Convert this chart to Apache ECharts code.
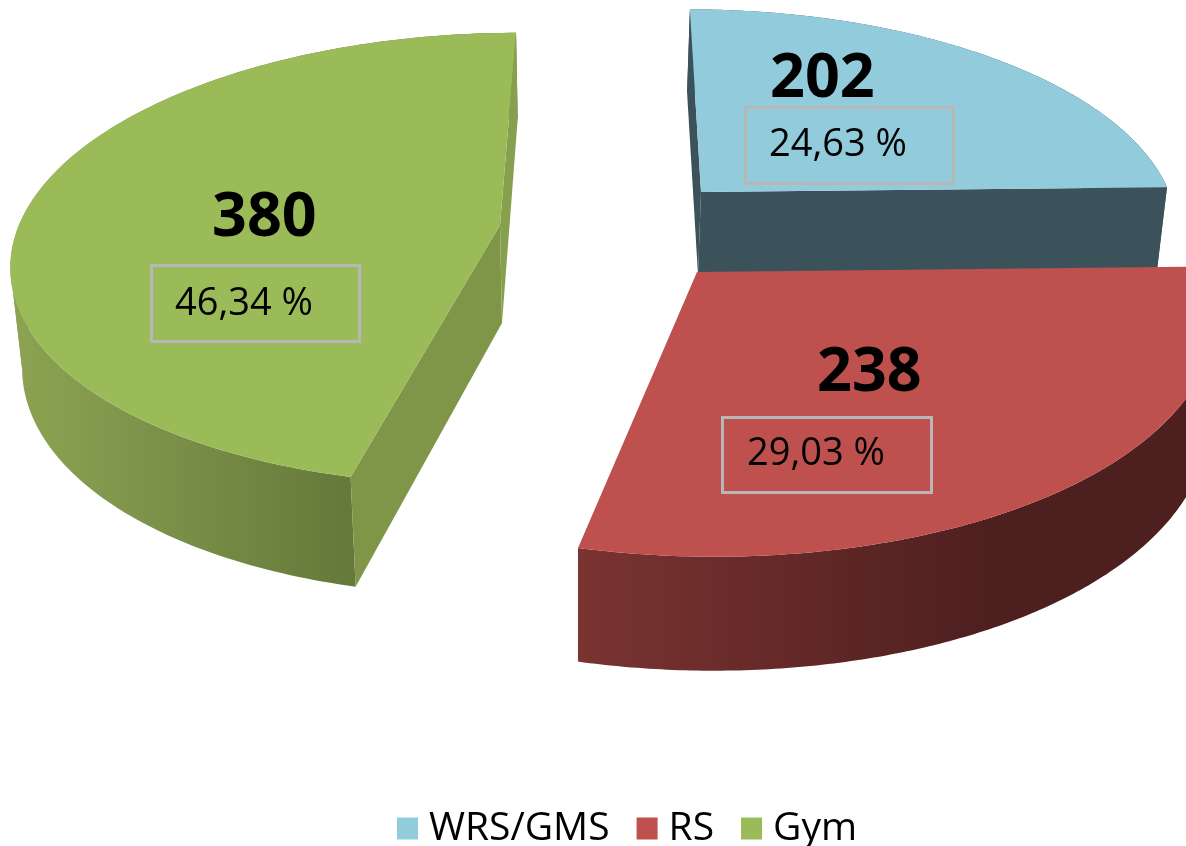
<!DOCTYPE html>
<html><head><meta charset="utf-8">
<style>html,body{margin:0;padding:0;background:#fff}#c{width:1186px;height:846px}</style>
<script src="https://cdn.jsdelivr.net/npm/echarts@6/dist/echarts.min.js"></script>
</head><body><div id="c"></div>
<script>
const categories = ['WRS/GMS', 'RS', 'Gym'];
const counts = [202, 238, 380];
const percentLabels = ['24,63 %', '29,03 %', '46,34 %'];

const FONT = '"Open Sans", sans-serif';
const total = counts.reduce((a, b) => a + b, 0);
// Exploded-slice perspective and text placement, per category
const layout = [
  { cx: 701, cy: 192, rx: 468, ry: 210, vx: 616, p: .15, sx: 501, s: .985, d0: 83, d1: 0, z: 2,
    top: '#92cbdc', wall: '#3c525a', cut: '#3c525a', cutFront: true, cutBack: true,
    num: [770, 110], box: [745.5, 107.5, 208, 76], pct: [769, 164] },
  { cx: 697, cy: 272, rx: 510, ry: 242, vx: 597, p: .15, sx: 578, s: .99, d0: 102, d1: 12, z: 3,
    top: '#be504e', wall: ['#7a3331', '#4d1f1f', 578, 1000], cut: '#4d1f1f',
    num: [817, 404], box: [722.5, 417.5, 209, 75], pct: [747, 473] },
  { cx: 500, cy: 225, rx: 481, ry: 221, vx: 623, p: .15, sx: 600, s: .98, d0: 98, d1: 12, z: 1,
    top: '#9bbb59', wall: ['#8ca252', '#64793a', 22, 356], cut: '#7f9648', cutFront: true, cutBack: true, cutBackColor: '#87a04e',
    num: [212, 249], box: [151.5, 265.5, 208, 76], pct: [175, 323] }
];

function project(l, theta) {
  const u = Math.sin(theta), v = -Math.cos(theta), w = 1 - l.p * v;
  return [l.cx + (l.rx * u + (l.cx - l.vx)) / w - (l.cx - l.vx), l.cy + l.ry * v / w, v];
}
function lower(l, pt, v) {
  return [l.sx + (pt[0] - l.sx) * l.s, pt[1] + l.d0 + l.d1 * v];
}
function arcPoints(l, a0, a1, n) {
  const r = [];
  for (let i = 0; i <= n; i++) r.push(project(l, a0 + (a1 - a0) * i / n));
  return r;
}
const poly = (points, fill, z2) => ({ type: 'polygon', z2: z2, shape: { points: points }, style: { fill: fill, stroke: null } });

function renderSlice(idx) {
  return function (params, api) {
    const value = api.value(0);
    const before = counts.slice(0, idx).reduce((a, b) => a + b, 0);
    const a0 = before / total * 2 * Math.PI, a1 = a0 + value / total * 2 * Math.PI;
    const l = layout[idx];
    const arc = arcPoints(l, a0, a1, 180);
    const apex = [l.cx, l.cy];
    const apexLow = lower(l, apex, 0);
    const upperPts = arc.map(p => [p[0], p[1]]);
    const wallFill = Array.isArray(l.wall)
      ? new echarts.graphic.LinearGradient(l.wall[2], 0, l.wall[3], 0, [{ offset: 0, color: l.wall[0] }, { offset: 1, color: l.wall[1] }], true)
      : l.wall;
    const children = [];
    // split the outer wall at its horizontal extremes so each strip has one winding
    let iMin = 0, iMax = 0;
    arc.forEach((p, i) => { if (p[0] < arc[iMin][0]) iMin = i; if (p[0] > arc[iMax][0]) iMax = i; });
    const cuts = [0, Math.min(iMin, iMax), Math.max(iMin, iMax), arc.length - 1];
    for (let c = 0; c < 3; c++) {
      if (cuts[c + 1] <= cuts[c]) continue;
      const part = arc.slice(cuts[c], cuts[c + 1] + 1);
      const up = part.map(p => [p[0], p[1]]);
      const lo = part.map(p => lower(l, p, p[2]));
      children.push(poly(up.concat(lo.reverse()), wallFill, 1));
    }
    const first = arc[0], last = arc[arc.length - 1];
    if (l.cutFront || l.cutBack) {
      const startFace = [apex, [first[0], first[1]], lower(l, first, first[2]), apexLow];
      const endFace = [apex, [last[0], last[1]], lower(l, last, last[2]), apexLow];
      children.push(poly(idx === 0 ? endFace : startFace, l.cut, 2));
      children.push(poly(idx === 0 ? startFace : endFace, l.cutBackColor || l.cut, 2));
    }
    children.push(poly([apex].concat(upperPts), l.top, 3));
    children.push({ type: 'rect', z2: 4, shape: { x: l.box[0], y: l.box[1], width: l.box[2], height: l.box[3] },
      style: { fill: 'none', stroke: '#b7b7b7', lineWidth: 3 } });
    children.push({ type: 'text', z2: 5, style: { x: l.num[0], y: l.num[1], text: String(value), fill: '#000',
      font: 'bold 61px ' + FONT, textAlign: 'left', verticalAlign: 'bottom' } });
    children.push({ type: 'text', z2: 5, style: { x: l.pct[0], y: l.pct[1], text: percentLabels[idx], fill: '#000',
      font: '38px ' + FONT, textAlign: 'left', verticalAlign: 'bottom' } });
    return { type: 'group', children: children };
  };
}

const chart = echarts.init(document.getElementById('c'), null, { renderer: 'canvas' });
chart.setOption({
  backgroundColor: '#fff',
  animation: false,
  tooltip: { show: false },
  legend: {
    left: 392, top: 804, icon: 'rect', itemWidth: 21, itemHeight: 22, itemGap: 27,
    data: categories, selectedMode: false,
    textStyle: { color: '#000', fontFamily: FONT, fontSize: 39, padding: [0, 0, 0, 6] }
  },
  series: categories.map((name, i) => ({
    type: 'custom', name: name, coordinateSystem: 'none', z: layout[i].z, silent: true,
    itemStyle: { color: layout[i].top },
    renderItem: renderSlice(i),
    data: [[counts[i]]]
  }))
});
</script></body></html>
